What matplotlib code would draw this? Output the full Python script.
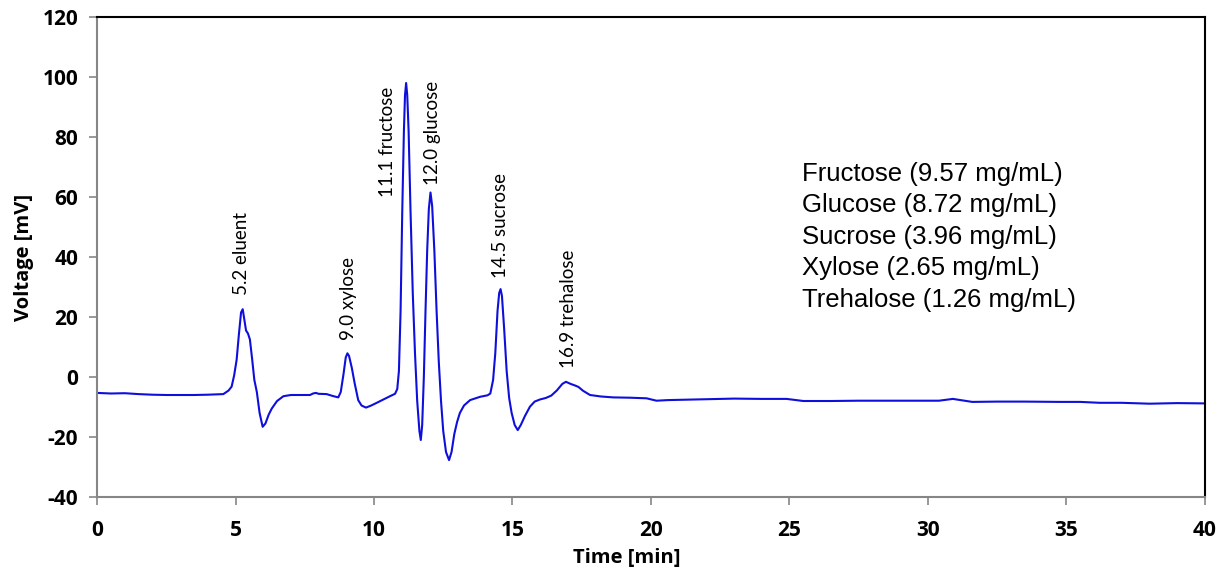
import matplotlib.pyplot as plt

plt.rcParams['axes.unicode_minus'] = False
plt.rcParams['font.family'] = 'Open Sans'
plt.rcParams['font.weight'] = 'bold'

# chromatogram trace
time_min = [0.0, 0.5, 1.0, 1.5, 2.0, 2.5, 3.0, 3.5, 4.0, 4.56, 4.75, 4.86, 4.95, 5.04,
            5.12, 5.2, 5.26, 5.32, 5.38, 5.45, 5.52, 5.6, 5.68, 5.77, 5.87, 5.98, 6.08,
            6.2, 6.31, 6.5, 6.73, 7.0, 7.3, 7.69, 7.8, 7.9, 8.0, 8.29, 8.5, 8.71, 8.8,
            8.9, 8.98, 9.04, 9.1, 9.2, 9.3, 9.43, 9.55, 9.71, 9.9, 10.1, 10.4, 10.6,
            10.76, 10.84, 10.9, 10.96, 11.02, 11.08, 11.12, 11.16, 11.2, 11.25, 11.32,
            11.4, 11.48, 11.56, 11.64, 11.69, 11.74, 11.8, 11.86, 11.92, 11.98, 12.04,
            12.1, 12.18, 12.26, 12.34, 12.42, 12.5, 12.6, 12.71, 12.8, 12.9, 13.0, 13.1,
            13.25, 13.47, 13.83, 14.1, 14.2, 14.3, 14.38, 14.46, 14.52, 14.57, 14.62,
            14.7, 14.79, 14.88, 14.97, 15.08, 15.19, 15.3, 15.45, 15.63, 15.8, 15.99,
            16.2, 16.4, 16.6, 16.8, 16.93, 17.1, 17.25, 17.38, 17.55, 17.8, 18.2, 18.64,
            19.24, 19.84, 20.2, 20.6, 21.5, 22.5, 23.0, 24.0, 24.9, 25.5, 26.5, 27.5,
            28.5, 29.5, 30.4, 30.9, 31.6, 32.5, 33.5, 34.77, 35.5, 36.2, 37.0, 38.0,
            39.0, 40.0]
voltage_mv = [-5.3, -5.5, -5.4, -5.7, -5.9, -6.0, -6.0, -6.0, -5.9, -5.7, -4.5, -3.2, 0.5, 5.7,
              14.0, 21.5, 22.6, 19.0, 15.5, 14.5, 12.5, 6.0, -1.0, -5.0, -12.0, -16.6, -15.5,
              -12.5, -10.5, -8.0, -6.4, -6.0, -6.0, -6.0, -5.5, -5.3, -5.6, -5.7, -6.3, -6.8, -5.0,
              1.0, 6.5, 7.9, 7.0, 3.0, -2.0, -7.7, -9.5, -10.2, -9.5, -8.6, -7.2, -6.3,
              -5.6, -4.0, 2.0, 22.0, 55.0, 82.0, 94.0, 98.0, 94.0, 82.0, 55.0,
              28.0, 8.0, -8.0, -18.0, -21.0, -16.0, 0.0, 22.0, 42.0, 56.0, 61.5,
              57.0, 42.0, 22.0, 5.0, -8.0, -18.0, -25.0, -27.7, -25.0, -19.0, -15.0, -12.0,
              -9.5, -7.7, -6.6, -6.1, -5.5, -1.0, 8.0, 22.0, 28.0, 29.3, 27.0,
              16.0, 2.0, -7.0, -12.0, -16.0, -17.7, -16.0, -13.0, -9.9, -8.2, -7.5,
              -7.0, -6.2, -4.5, -2.3, -1.6, -2.3, -2.8, -3.3, -4.6, -6.0, -6.5, -6.8,
              -6.9, -7.1, -7.9, -7.7, -7.5, -7.3, -7.2, -7.3, -7.3, -8.0, -8.0, -7.9,
              -7.9, -7.9, -7.9, -7.3, -8.3, -8.2, -8.2, -8.3, -8.3, -8.6, -8.6, -8.9,
              -8.7, -8.8]

# peak labels
peak_labels = ['5.2 eluent', '9.0 xylose', '11.1 fructose', '12.0 glucose',
               '14.5 sucrose', '16.9 trehalose']
label_x = [5.23, 9.07, 10.5, 12.1, 14.57, 17.04]
label_y = [27.3, 12.3, 60.1, 64.0, 32.9, 3.0]

concentrations = ['Fructose (9.57 mg/mL)', 'Glucose (8.72 mg/mL)',
                  'Sucrose (3.96 mg/mL)', 'Xylose (2.65 mg/mL)',
                  'Trehalose (1.26 mg/mL)']

x_ticks = [0, 5, 10, 15, 20, 25, 30, 35, 40]
y_ticks = [-40, -20, 0, 20, 40, 60, 80, 100, 120]

fig = plt.figure(figsize=(12.22, 5.71), dpi=100)
ax = fig.add_axes([0.0794, 0.1296, 0.9066, 0.8406])

ax.plot(time_min, voltage_mv, color='#0f0fdc', linewidth=1.5)

for lab, lx, ly in zip(peak_labels, label_x, label_y):
    ax.text(lx, ly, lab, rotation=90, ha='center', va='bottom',
            fontsize=13.5, family='Lato', fontweight='normal', color='black')

ax.text(0.636, 0.698, '\n'.join(concentrations), transform=ax.transAxes,
        ha='left', va='top', fontsize=18.5, family='Liberation Sans',
        fontweight='normal', linespacing=1.39)

ax.set_xlim(0, 40)
ax.set_ylim(-40, 120)
ax.set_xticks(x_ticks)
ax.set_yticks(y_ticks)

ax.tick_params(axis='both', direction='out', length=5.5, width=1.2,
               color='#868686', pad=8, labelsize=15)
ax.tick_params(axis='x', pad=11)

ax.spines['left'].set_color('#868686')
ax.spines['bottom'].set_color('#868686')
ax.spines['left'].set_linewidth(1.5)
ax.spines['bottom'].set_linewidth(1.5)
ax.spines['top'].set_color('black')
ax.spines['right'].set_color('black')
ax.spines['top'].set_linewidth(1.5)
ax.spines['right'].set_linewidth(1.5)

ax.set_xlabel('Time [min]', fontsize=14.5, fontweight='bold')
ax.set_ylabel('Voltage [mV]', fontsize=14.5, fontweight='bold')
ax.xaxis.set_label_coords(0.478, -0.106)
ax.yaxis.set_label_coords(-0.057, 0.5)

fig.savefig('out.png', dpi=100)
